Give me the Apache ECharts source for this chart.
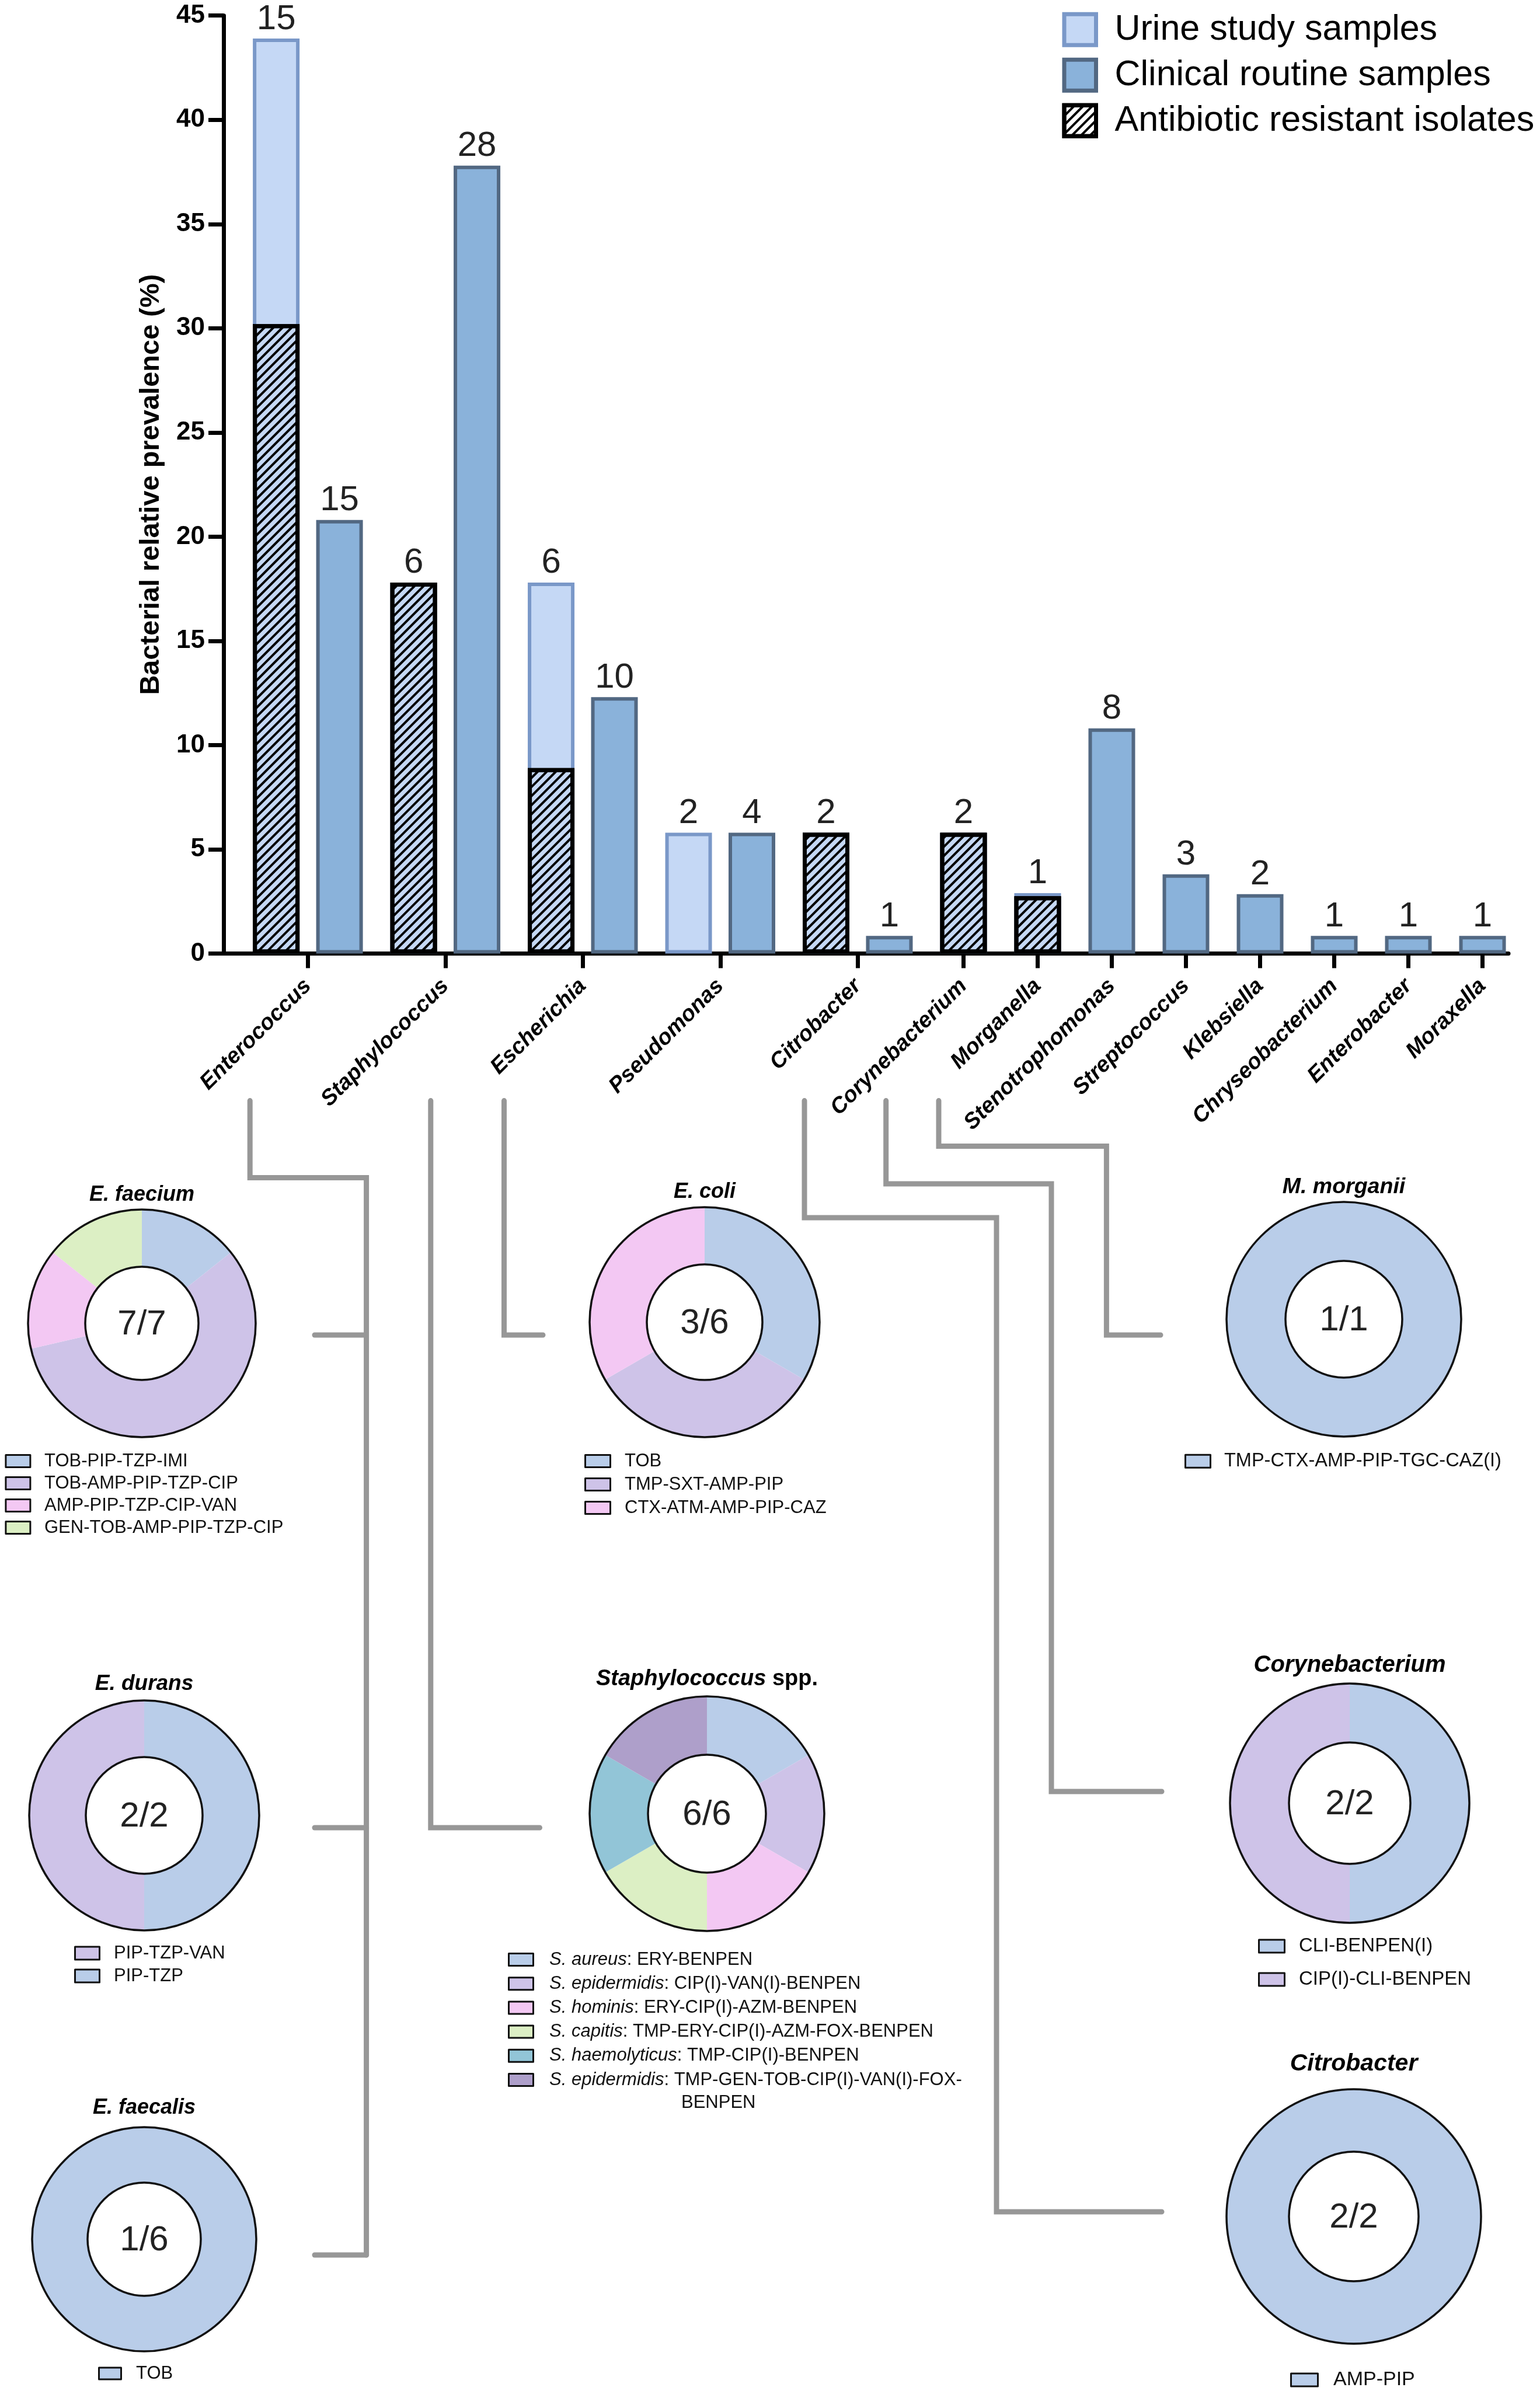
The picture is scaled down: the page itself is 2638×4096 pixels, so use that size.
<!DOCTYPE html>
<html><head><meta charset="utf-8">
<script src="https://cdn.jsdelivr.net/npm/echarts@6/dist/echarts.min.js"></script>
<style>html,body{margin:0;padding:0;background:#fff;}#c{width:2638px;height:4096px;}</style>
</head><body><div id="c"></div>
<script>
// ---------------- DATA ----------------
const categories = ['Enterococcus','Staphylococcus','Escherichia','Pseudomonas','Citrobacter','Corynebacterium','Morganella','Stenotrophomonas','Streptococcus','Klebsiella','Chryseobacterium','Enterobacter','Moraxella'];
const urineValues     = [43.9, 17.8, 17.8, 5.8, 5.8, 5.8, 2.9, null, null, null, null, null, null];
const resistantValues = [30.2, 17.8, 8.9, null, 5.8, 5.8, 2.75, null, null, null, null, null, null];
const clinicalValues  = [20.8, 37.8, 12.3, 5.8, 0.85, null, null, 10.8, 3.8, 2.85, 0.85, 0.85, 0.85];
const urineCounts     = [15, 6, 6, 2, 2, 2, 1, null, null, null, null, null, null];
const clinicalCounts  = [15, 28, 10, 4, 1, null, null, 8, 3, 2, 1, 1, 1];
const yMin = 0, yMax = 45, yInterval = 5;
const seriesNames = ['Urine study samples', 'Clinical routine samples', 'Antibiotic resistant isolates'];

const pieTitles = ['E. faecium','E. coli','M. morganii','E. durans','Staphylococcus spp.','Corynebacterium','E. faecalis','Citrobacter'];
const pieFractions = ['7/7','3/6','1/1','2/2','6/6','2/2','1/6','2/2'];
const pieNames = [
  ['TOB-PIP-TZP-IMI','TOB-AMP-PIP-TZP-CIP','AMP-PIP-TZP-CIP-VAN','GEN-TOB-AMP-PIP-TZP-CIP'],
  ['TOB','TMP-SXT-AMP-PIP','CTX-ATM-AMP-PIP-CAZ'],
  ['TMP-CTX-AMP-PIP-TGC-CAZ(I)'],
  ['PIP-TZP','PIP-TZP-VAN'],
  ['S. aureus: ERY-BENPEN','S. epidermidis: CIP(I)-VAN(I)-BENPEN','S. hominis: ERY-CIP(I)-AZM-BENPEN','S. capitis: TMP-ERY-CIP(I)-AZM-FOX-BENPEN','S. haemolyticus: TMP-CIP(I)-BENPEN','S. epidermidis: TMP-GEN-TOB-CIP(I)-VAN(I)-FOX-BENPEN'],
  ['CLI-BENPEN(I)','CIP(I)-CLI-BENPEN'],
  ['TOB'],
  ['AMP-PIP']
];
const pieValues = [[1,4,1,1],[1,1,1],[1],[1,1],[1,1,1,1,1,1],[1,1],[1],[1]];
const pieLegendOrder = [null, null, null, ['PIP-TZP-VAN','PIP-TZP'], null, null, null, null];

// ---------------- STYLE / LAYOUT ----------------
const FONT = "'Liberation Sans', Arial, Helvetica, sans-serif";
const C = {
  urineFill:'#c5d8f5', urineBorder:'#7a98c8',
  clinFill:'#8ab2da', clinBorder:'#526882',
  lineGray:'#979797'
};
const PAL = {blue:'#b9cde9', lav:'#cec3e8', pink:'#f3c8f3', green:'#dcefc4', teal:'#92c5d7', purple:'#ae9fca'};
const pieColorKeys = [['blue','lav','pink','green'],['blue','lav','pink'],['blue'],['blue','lav'],['blue','lav','pink','green','teal','purple'],['blue','lav'],['blue'],['blue']];

// lg: L = icon outer left, C0 = first row centre, W/H = icon outer size, P = row pitch, X = text start, F = font size
const pieLayout = [
  {cx:243,  cy:2267, r0:97,  r:195, ty:2047, ts:36,   lg:{L:8.4,  C0:2503, W:45, H:24, P:38,  X:76,   F:31}},
  {cx:1207, cy:2265, r0:99,  r:197, ty:2042, ts:36,   lg:{L:1001, C0:2503, W:46, H:24, P:40,  X:1070, F:31}},
  {cx:2302, cy:2260, r0:100, r:201, ty:2034, ts:37.5, lg:{L:2029, C0:2503, W:46, H:25, P:40,  X:2097, F:32.5}},
  {cx:247,  cy:3110, r0:100, r:197, ty:2885, ts:37,   lg:{L:127,  C0:3346, W:45, H:25, P:39,  X:195,  F:31}},
  {cx:1211, cy:3107, r0:101, r:201, ty:2877, ts:38,   lg:{L:870,  C0:3357, W:45, H:24, P:41.2,X:941,  F:31}},
  {cx:2312, cy:3089, r0:104, r:205, ty:2853, ts:40,   lg:{L:2155, C0:3334, W:47, H:25, P:57,  X:2225, F:33}},
  {cx:247,  cy:3836, r0:97,  r:192, ty:3611, ts:36,   lg:{L:168,  C0:4066, W:41, H:23, P:38,  X:233,  F:31}},
  {cx:2319, cy:3797, r0:111, r:218, ty:3536, ts:41,   lg:{L:2210, C0:4077, W:49, H:25, P:40,  X:2284, F:34}}
];

const connectors = [
  [[428.2,1885.6],[428.2,2017.5],[627.6,2017.5],[627.6,3863]],
  [[539,2287],[627.6,2287]],
  [[539,3131],[627.6,3131]],
  [[539,3863],[627.6,3863]],
  [[737.8,1885.6],[737.8,3131],[924.5,3131]],
  [[863.5,1885.6],[863.5,2287],[930,2287]],
  [[1378,1885.6],[1378,2086],[1707,2086],[1707,3789],[1990,3789]],
  [[1517.7,1885.6],[1517.7,2028],[1801,2028],[1801,3069],[1990,3069]],
  [[1608,1885.6],[1608,1963.5],[1895.4,1963.5],[1895.4,2287],[1988,2287]]
];

// ---------------- BAR POSITIONS (from group structure) ----------------
const WITHIN = 1, BETWEEN = 1.171;
const urinePos = [], clinicalPos = [], groupCenter = [];
let cursor = -BETWEEN;
categories.forEach((c, i) => {
  cursor += BETWEEN;
  const slots = [];
  if (urineValues[i] != null) { urinePos[i] = cursor; slots.push(cursor); }
  if (clinicalValues[i] != null) {
    if (urineValues[i] != null) cursor += WITHIN;
    clinicalPos[i] = cursor; slots.push(cursor);
  }
  groupCenter[i] = (slots[0] + slots[slots.length - 1]) / 2;
});
const xMin = -0.831, xMax = cursor + 0.41;

const urineData = [], clinData = [], resData = [];
categories.forEach((c, i) => {
  if (urineValues[i] != null) urineData.push({value:[urinePos[i], urineValues[i]], count:urineCounts[i]});
  if (resistantValues[i] != null) resData.push({value:[urinePos[i], resistantValues[i]]});
  if (clinicalValues[i] != null) clinData.push({value:[clinicalPos[i], clinicalValues[i]], count:clinicalCounts[i]});
});

function catName(v) {
  let best = 0, bd = Infinity;
  groupCenter.forEach((g, i) => { const d = Math.abs(g - v); if (d < bd) { bd = d; best = i; } });
  return categories[best];
}

const barLabel = {
  show:true, position:'top', distance:3, fontSize:60, fontFamily:FONT, color:'#222',
  formatter: p => (p.data && p.data.count != null ? String(p.data.count) : '')
};

const series = [
  {name:seriesNames[0], type:'bar', data:urineData, barWidth:80, barGap:'-100%',
   itemStyle:{color:C.urineFill, borderColor:C.urineBorder, borderWidth:6}, label:barLabel, z:2},
  {name:seriesNames[1], type:'bar', data:clinData, barWidth:80, barGap:'-100%',
   itemStyle:{color:C.clinFill, borderColor:C.clinBorder, borderWidth:6}, label:barLabel, z:2},
  {name:seriesNames[2], type:'bar', data:resData, barWidth:80, barGap:'-100%',
   itemStyle:{color:C.urineFill, borderColor:'#000', borderWidth:7,
     decal:{symbol:'rect', symbolSize:1, dashArrayX:[1,0], dashArrayY:[4,7], rotation:-Math.PI/4, color:'#000'}},
   label:{show:false}, z:2}
];

const legends = [{
  orient:'vertical', left:1819.5, top:50.7 - 61/2, padding:0, icon:'rect',
  itemWidth:61.5-7, itemHeight:60-7, itemGap:78-61, selectedMode:false,
  itemStyle:{borderWidth:7},
  data:[seriesNames[0], seriesNames[1], {name:seriesNames[2], itemStyle:{color:'#fff'}}],
  textStyle:{fontSize:61, fontFamily:FONT, color:'#000', padding:[0,0,0,1909.5-1819.5-61.5+3.5-5]}
}];

const graphics = [];
connectors.forEach(pts => graphics.push({type:'polyline', silent:true, shape:{points:pts},
  style:{stroke:C.lineGray, lineWidth:9, fill:null, lineCap:'round', lineJoin:'miter'}}));

pieTitles.forEach((t, k) => {
  const L = pieLayout[k], lg = L.lg, bw = 3;
  const boxH = Math.max(lg.F, lg.H);
  series.push({
    type:'pie', center:[L.cx, L.cy], radius:[L.r0, L.r], startAngle:90, clockwise:true,
    silent:true, emphasis:{disabled:true}, label:{show:false}, labelLine:{show:false},
    avoidLabelOverlap:false, itemStyle:{borderWidth:0},
    data: pieNames[k].map((n, j) => ({name:n, value:pieValues[k][j], itemStyle:{color:PAL[pieColorKeys[k][j]]}}))
  });
  series.push({
    type:'pie', center:[L.cx, L.cy], radius:[L.r0, L.r], silent:true, emphasis:{disabled:true},
    label:{show:false}, labelLine:{show:false}, z:3,
    data:[{name:'ring' + k, value:1}],
    itemStyle:{color:'rgba(0,0,0,0)', borderColor:'#111', borderWidth:3.5}
  });
  const isStaph = k === 4;
  legends.push({
    orient:'vertical', left:lg.L, top:lg.C0 - boxH / 2, padding:0, icon:'rect', selectedMode:false,
    itemWidth:lg.W - bw, itemHeight:lg.H - bw, itemGap:lg.P - boxH,
    itemStyle:{borderColor:'#111', borderWidth:bw},
    data: pieLegendOrder[k] || pieNames[k],
    formatter: isStaph ? (name => {
      const idx = name.indexOf(': ');
      let rest = name.slice(idx + 2);
      if (rest.length > 32) rest = rest.slice(0, rest.lastIndexOf('-', 32) + 1);
      return '{i|' + name.slice(0, idx) + '}: ' + rest;
    }) : undefined,
    textStyle:{fontSize:lg.F, fontFamily:FONT, color:'#111',
      padding:[0,0,0,lg.X - lg.L - lg.W + bw/2 - 5],
      rich:{i:{fontStyle:'italic', fontSize:lg.F, fontFamily:FONT, color:'#111'}}}
  });
  // title
  if (isStaph) {
    const parts = t.split(' ');
    graphics.push({type:'text', x:L.cx, y:L.ty, silent:true, style:{
      text:'{i|' + parts[0] + '} ' + parts.slice(1).join(' '),
      font:'bold ' + L.ts + 'px ' + FONT, fill:'#000', align:'center', textAlign:'center', verticalAlign:'middle', textVerticalAlign:'middle',
      rich:{i:{fontStyle:'italic', fontWeight:'bold', fontSize:L.ts, fontFamily:FONT, fill:'#000', color:'#000'}}}});
  } else {
    graphics.push({type:'text', x:L.cx, y:L.ty, silent:true, style:{text:t,
      font:'italic bold ' + L.ts + 'px ' + FONT, fill:'#000', align:'center', textAlign:'center', verticalAlign:'middle', textVerticalAlign:'middle'}});
  }
  graphics.push({type:'text', x:L.cx, y:L.cy + 2, silent:true, style:{text:pieFractions[k],
    font:'60px ' + FONT, fill:'#222', align:'center', textAlign:'center', verticalAlign:'middle', textVerticalAlign:'middle'}});
});
// continuation line of the long Staphylococcus legend entry
(function(){
  const full = pieNames[4][5]; const rest = full.slice(full.indexOf(': ') + 2);
  const tail = rest.slice(rest.lastIndexOf('-', 32) + 1);
  graphics.push({type:'text', x:1167, y:3602, silent:true, style:{text:tail, font:'31px ' + FONT, fill:'#111',
    align:'left', textAlign:'left', verticalAlign:'middle', textVerticalAlign:'middle'}});
})();

const option = {
  animation:false,
  backgroundColor:'#fff',
  grid:{left:383, right:54, top:26.7, bottom:4096-1633.5, containLabel:false},
  xAxis:{
    type:'value', min:xMin, max:xMax,
    splitLine:{show:false},
    axisLine:{show:true, onZero:false, lineStyle:{color:'#000', width:7}},
    axisTick:{show:true, length:25, lineStyle:{color:'#000', width:7}, customValues:groupCenter},
    axisLabel:{show:true, customValues:groupCenter, formatter:v => catName(v), rotate:45, margin:50,
      fontSize:38, fontStyle:'italic', fontWeight:'bold', fontFamily:FONT, color:'#000'}
  },
  yAxis:{
    type:'value', min:yMin, max:yMax, interval:yInterval,
    name:'Bacterial relative prevalence (%)', nameLocation:'middle', nameGap:100,
    nameTextStyle:{fontSize:47, fontWeight:'bold', fontFamily:FONT, color:'#000'},
    splitLine:{show:false},
    axisLine:{show:true, onZero:false, lineStyle:{color:'#000', width:7}},
    axisTick:{show:true, length:26, lineStyle:{color:'#000', width:7}},
    axisLabel:{fontSize:44, fontWeight:'bold', fontFamily:FONT, color:'#000', margin:32}
  },
  legend:legends,
  series:series,
  graphic:{elements:graphics}
};
const chart = echarts.init(document.getElementById('c'), null, {renderer:'canvas', width:2638, height:4096});
chart.setOption(option);
</script></body></html>
